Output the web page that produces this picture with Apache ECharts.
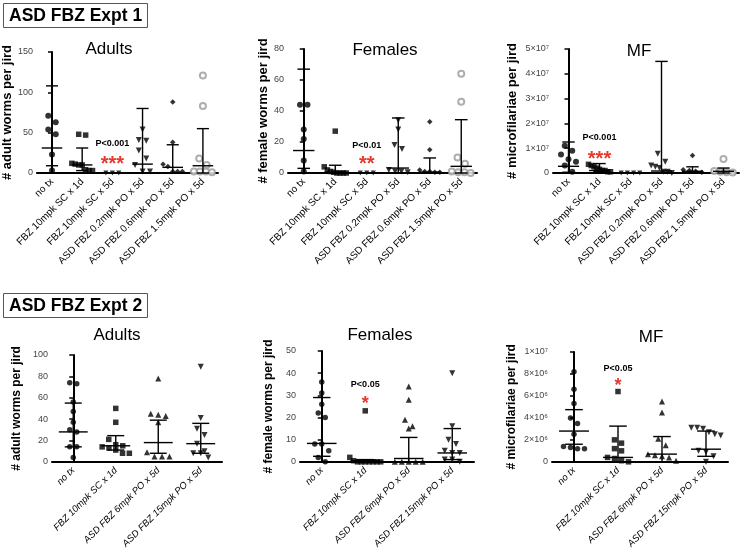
<!DOCTYPE html>
<html>
<head>
<meta charset="utf-8">
<script src="https://cdn.jsdelivr.net/npm/echarts@6/dist/echarts.min.js"></script>
<style>
html,body{margin:0;padding:0;background:#fff}
#main{width:740px;height:551px}
</style>
</head>
<body>
<div id="main"></div>
<script>
// categories
var cats1 = ['no tx', 'FBZ 10mpk SC x 1d', 'FBZ 10mpk SC x 5d', 'ASD FBZ 0.2mpk PO x 5d', 'ASD FBZ 0.6mpk PO x 5d', 'ASD FBZ 1.5mpk PO x 5d'];
var cats2 = ['no tx', 'FBZ 10mpk SC x 1d', 'ASD FBZ 6mpk PO x 5d', 'ASD FBZ 15mpk PO x 5d'];

// Expt 1 - adults
var adults1 = [[71, 63, 54, 48, 23, 3], [48, 47, 12, 11, 10, 10, 4, 3, 3], [0, 0, 0], [54, 41, 40, 28, 18, 10, 2, 2], [88, 38, 11, 8, 2, 2, 2], [121, 83, 18, 10, 2, 2, 2, 1]];
var adults1Low = [9, 3, 0, 0, 0, 0];
var adults1Med = [31, 10, 0, 11, 7, 9];
var adults1High = [108, 31, 0, 80, 35, 55];
var adults1Note = [2, 37, 17, 'P<0.001', '***'];

// Expt 1 - females
var females1 = [[44, 44, 28, 22, 8, 1], [27, 4, 2, 1, 0.5, 0, 0, 0, 0], [0, 0, 0], [34, 28, 18, 15.5, 2, 1, 1, 0.5], [33, 15, 2, 1, 1, 0.5, 0.5], [64, 46, 10, 6, 1, 0.5, 0.5, 0]];
var females1Low = [3, 0, 0, 0, 0, 0];
var females1Med = [14.5, 0.6, 0, 3.2, 0.6, 4.3];
var females1High = [67, 5, 0, 35.5, 9.7, 34.4];
var females1Note = [2, 17.6, 9, 'P<0.01', '**'];

// Expt 1 - microfilariae
var mf1 = [[1.1e7, 0.9e7, 0.75e7, 0.55e7, 0.45e7, 0.3e7, 0.05e7], [0.35e7, 0.3e7, 0.25e7, 0.2e7, 0.15e7, 0.1e7, 0.1e7, 0.05e7, 0.05e7], [0, 0, 0, 0], [0.78e7, 0.45e7, 0.3e7, 0.25e7, 0.2e7, 0.05e7, 0.05e7, 0], [0.71e7, 0.13e7, 0.1e7, 0.07e7, 0.03e7], [0.56e7, 0.08e7, 0.05e7, 0.03e7, 0.02e7]];
var mf1Low = [0.03e7, 0.05e7, 0, 0, 0, 0];
var mf1Med = [0.27e7, 0.1e7, 0, 0.08e7, 0.07e7, 0.07e7];
var mf1High = [1.25e7, 0.38e7, 0, 4.5e7, 0.25e7, 0.2e7];
var mf1Note = [1, 1.44e7, 0.74e7, 'P<0.001', '***'];

// Expt 2 - adults
var adults2 = [[74, 73, 56, 47, 37, 30, 28, 14, 14, 4], [50, 37, 21, 16, 15, 14, 13, 11, 8, 8], [78, 45, 44, 43, 37, 9, 5, 5, 5], [89, 41, 31, 25, 17, 10, 8, 8, 4]];
var adults2Low = [14, 11, 8, 8];
var adults2Med = [28, 15, 18, 17];
var adults2High = [55, 24.5, 39, 36];

// Expt 2 - females
var females2 = [[36, 31, 26, 22, 20, 8, 8, 5, 2, 0], [23, 2, 0.5, 0, 0, 0, 0, 0, 0, 0], [34, 28, 19, 16, 15, 0, 0, 0, 0, 0], [40, 16, 10, 8, 5, 4, 4, 1, 1, 0]];
var females2Low = [2.5, 0, 0, 1];
var females2Med = [8.3, 0.5, 1.5, 4];
var females2High = [29, 1, 11, 15];
var females2Note = [1, 35, 28.4, 'P<0.05', '*'];

// Expt 2 - microfilariae
var mf2 = [[8.2e6, 6.6e6, 5.3e6, 4.0e6, 3.5e6, 2.5e6, 1.4e6, 1.3e6, 1.2e6, 1.2e6], [6.4e6, 2.0e6, 1.7e6, 1.2e6, 1.0e6, 0.4e6, 0.3e6, 0.1e6, 0], [5.5e6, 4.5e6, 2.1e6, 1.5e6, 0.7e6, 0.6e6, 0.5e6, 0.4e6, 0.1e6], [3.1e6, 3.1e6, 3.0e6, 2.7e6, 2.5e6, 2.4e6, 1.0e6, 0.9e6, 0.5e6, 0]];
var mf2Low = [1.6e6, 0, 0, 0.5e6];
var mf2Med = [2.8e6, 0.4e6, 0.7e6, 1.15e6];
var mf2High = [4.75e6, 3.25e6, 2.3e6, 2.8e6];
var mf2Note = [1, 8.5e6, 7.4e6, 'P<0.05', '*'];

var FONT = 'Liberation Sans, Arial, sans-serif';

// marker styles per group
var marks1 = [
    {symbol: 'circle', size: 6},
    {symbol: 'rect', size: 5.5},
    {symbol: 'triangle', size: 5, rotate: 180},
    {symbol: 'triangle', size: 6, rotate: 180},
    {symbol: 'diamond', size: 5.5},
    {symbol: 'emptyCircle', size: 6, color: '#9a9a9a'}
];
var marks2 = [
    {symbol: 'circle', size: 5.5},
    {symbol: 'rect', size: 5.5},
    {symbol: 'triangle', size: 6},
    {symbol: 'triangle', size: 6, rotate: 180}
];

var panels = [
    {grid: {left: 36, top: 52, width: 182, height: 121}, cats: cats1, vals: adults1, lo: adults1Low, md: adults1Med, hi: adults1High,
        max: 150, step: 50, name: '# adult worms per jird', gap: 19, nameSize: 13, marks: marks1, note: adults1Note, title: 'Adults', tx: 109, ty: 49, italic: false},
    {grid: {left: 288, top: 49, width: 189, height: 124}, cats: cats1, vals: females1, lo: females1Low, md: females1Med, hi: females1High,
        max: 80, step: 20, name: '# female worms per jird', gap: 18, nameSize: 13, marks: marks1, note: females1Note, title: 'Females', tx: 385, ty: 50, italic: false},
    {grid: {left: 553, top: 49, width: 186, height: 124}, cats: cats1, vals: mf1, lo: mf1Low, md: mf1Med, hi: mf1High,
        max: 5e7, step: 1e7, name: '# microfilariae per jird', gap: 34, nameSize: 13, marks: marks1, note: mf1Note, title: 'MF', tx: 639, ty: 51, italic: false},
    {grid: {left: 52, top: 355, width: 170, height: 113}, cats: cats2, vals: adults2, lo: adults2Low, md: adults2Med, hi: adults2High,
        max: 100, step: 20, name: '# adult worms per jird', gap: 29, nameSize: 12, marks: marks2, note: null, title: 'Adults', tx: 117, ty: 335, italic: true},
    {grid: {left: 300, top: 351, width: 174, height: 117}, cats: cats2, vals: females2, lo: females2Low, md: females2Med, hi: females2High,
        max: 50, step: 10, name: '# female worms per jird', gap: 25, nameSize: 12, marks: marks2, note: females2Note, title: 'Females', tx: 380, ty: 335, italic: true},
    {grid: {left: 552, top: 352, width: 176, height: 116}, cats: cats2, vals: mf2, lo: mf2Low, md: mf2Med, hi: mf2High,
        max: 1e7, step: 2e6, name: '# microfilariae per jird', gap: 34, nameSize: 12, marks: marks2, note: mf2Note, title: 'MF', tx: 651, ty: 337, italic: true}
];

var SUP = {'0': '⁰', '1': '¹', '2': '²', '3': '³', '4': '⁴', '5': '⁵', '6': '⁶', '7': '⁷', '8': '⁸', '9': '⁹'};
function sciLabel(v)
{
    if (v === 0) return '0';
    if (v < 1000) return String(v);
    var e = Math.floor(Math.log10(v) + 1e-9);
    var m = Math.round(v / Math.pow(10, e));
    return m + '×10' + String(e).split('').map(function (c) { return SUP[c]; }).join('');
}

// spread points with similar values side by side (like a column scatter)
function spread(vals, p, size)
{
    var h = p.grid.height, band = p.grid.width / p.cats.length;
    var thr = p.max * size * 1.4 / h;
    var sorted = vals.slice().sort(function (a, b) { return b - a; });
    var rows = [];
    sorted.forEach(function (v) {
        var r = rows[rows.length - 1];
        if (r && r[0] - v < thr) r.push(v); else rows.push([v]);
    });
    var out = [];
    rows.forEach(function (r) {
        var stepPx = Math.min(size + 1.5, band * 0.8 / r.length);
        r.forEach(function (v, k) {
            out.push([(k - (r.length - 1) / 2) * stepPx / band, v]);
        });
    });
    return out;
}

var option = {
    animation: false,
    backgroundColor: '#fff',
    textStyle: {fontFamily: FONT},
    title: [
        {text: 'ASD FBZ Expt 1', left: 3, top: 3, padding: [4, 6, 3, 6], borderColor: '#555', borderWidth: 1,
            textStyle: {fontSize: 17.5, fontWeight: 'bold', color: '#000', fontFamily: FONT}},
        {text: 'ASD FBZ Expt 2', left: 3, top: 293, padding: [4, 6, 3, 6], borderColor: '#555', borderWidth: 1,
            textStyle: {fontSize: 17.5, fontWeight: 'bold', color: '#000', fontFamily: FONT}}
    ],
    grid: [], xAxis: [], yAxis: [], series: [], graphic: []
};

panels.forEach(function (p, g)
{
    var n = p.cats.length;
    option.grid.push({left: p.grid.left, top: p.grid.top, width: p.grid.width, height: p.grid.height});
    // visible category axis
    option.xAxis.push({
        type: 'category', gridIndex: g, data: p.cats, boundaryGap: true,
        axisLine: {lineStyle: {color: '#000', width: 2}},
        axisTick: {show: false},
        axisLabel: {interval: 0, rotate: 45, margin: 7, fontSize: p.italic ? 9.5 : 10, color: '#000',
            fontStyle: p.italic ? 'italic' : 'normal', fontFamily: FONT}
    });
    // hidden value axis used to place the points
    option.xAxis.push({type: 'value', gridIndex: g, min: -0.5, max: n - 0.5, show: false});
    option.yAxis.push({
        type: 'value', gridIndex: g, min: 0, max: p.max, interval: p.step,
        name: p.name, nameLocation: 'middle', nameGap: p.gap,
        nameTextStyle: {fontSize: p.nameSize, fontWeight: 'bold', color: '#000', fontFamily: FONT},
        axisLine: {show: true, lineStyle: {color: '#000', width: 2}},
        axisTick: {show: true, length: 4, lineStyle: {width: 1.5, color: '#000'}},
        splitLine: {show: false},
        axisLabel: {fontSize: 9, color: '#444', margin: 4, formatter: sciLabel, fontFamily: FONT}
    });

    var xi = 2 * g + 1;

    // median + IQR bars
    option.series.push({
        type: 'custom', xAxisIndex: xi, yAxisIndex: g, z: 3,
        data: p.md.map(function (m, i) { return [i, p.lo[i], m, p.hi[i]]; }),
        renderItem: function (params, api)
        {
            var i = api.value(0);
            var pl = api.coord([i, api.value(1)]);
            var pm = api.coord([i, api.value(2)]);
            var ph = api.coord([i, api.value(3)]);
            var bw = api.size([1, 0])[0];
            var cap = bw * 0.2, med = bw * 0.34;
            var st = {stroke: '#000', lineWidth: 1.4};
            return {type: 'group', children: [
                {type: 'line', shape: {x1: pl[0], y1: ph[1], x2: pl[0], y2: pl[1]}, style: st},
                {type: 'line', shape: {x1: ph[0] - cap, y1: ph[1], x2: ph[0] + cap, y2: ph[1]}, style: st},
                {type: 'line', shape: {x1: pl[0] - cap, y1: pl[1], x2: pl[0] + cap, y2: pl[1]}, style: st},
                {type: 'line', shape: {x1: pm[0] - med, y1: pm[1], x2: pm[0] + med, y2: pm[1]}, style: st}
            ]};
        }
    });

    // individual animals
    p.vals.forEach(function (vals, i)
    {
        var mk = p.marks[i];
        var col = mk.color || '#000';
        option.series.push({
            type: 'scatter', xAxisIndex: xi, yAxisIndex: g, z: 2,
            symbol: mk.symbol, symbolSize: mk.size, symbolRotate: mk.rotate || 0,
            itemStyle: mk.symbol === 'emptyCircle' ? {color: col, borderColor: col, borderWidth: 1.2} : {color: col},
            data: spread(vals, p, mk.size).map(function (d) { return [i + d[0], d[1]]; })
        });
    });

    // significance notes
    if (p.note)
    {
        var note = p.note;
        option.series.push({
            type: 'custom', xAxisIndex: xi, yAxisIndex: g, z: 4,
            data: [[note[0], note[1], note[2]]],
            renderItem: function (params, api)
            {
                var a = api.coord([api.value(0), api.value(1)]);
                var b = api.coord([api.value(0), api.value(2)]);
                return {type: 'group', children: [
                    {type: 'text', x: a[0], y: a[1], style: {text: note[3], fontSize: 9, fontWeight: 'bold', fill: '#000',
                        fontFamily: FONT, align: 'center', verticalAlign: 'middle'}},
                    {type: 'text', x: b[0], y: b[1] + 5, style: {text: note[4], fontSize: note[4].length > 1 ? 20 : 18, fontWeight: 'bold',
                        fill: '#e8382d', fontFamily: FONT, align: 'center', verticalAlign: 'middle'}}
                ]};
            }
        });
    }

    option.graphic.push({type: 'text', x: p.tx, y: p.ty,
        style: {text: p.title, fontSize: 17, fill: '#000', fontFamily: FONT, align: 'center', verticalAlign: 'middle'}});
});

var myChart = echarts.init(document.getElementById('main'));
myChart.setOption(option);
</script>
</body>
</html>
